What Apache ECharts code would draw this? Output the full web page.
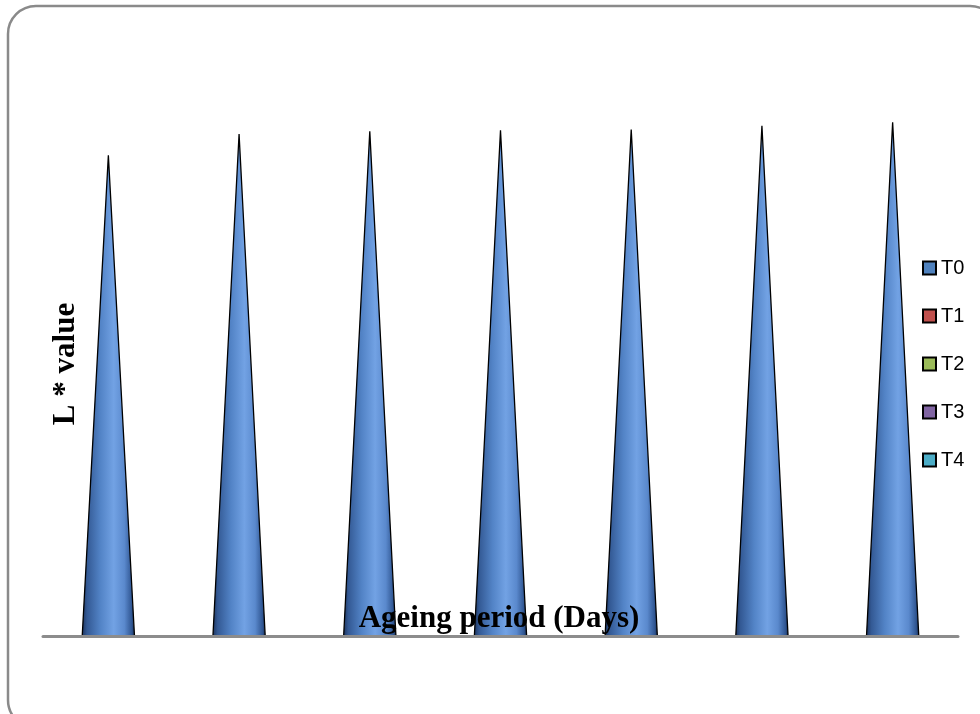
<!DOCTYPE html>
<html>
<head>
<meta charset="utf-8">
<script src="https://cdn.jsdelivr.net/npm/echarts@6/dist/echarts.min.js"></script>
<style>
  html, body { margin: 0; padding: 0; background: #ffffff; }
  #chart { width: 980px; height: 714px; }
</style>
</head>
<body>
<div id="chart"></div>
<script>
// Ageing period categories (days) and L* values for treatment T0
const categories = ['0', '15', '30', '45', '60', '75', '90'];
const valuesT0 = [53.8, 56.2, 56.5, 56.6, 56.7, 57.1, 57.5];
const seriesNames = ['T0', 'T1', 'T2', 'T3', 'T4'];
const seriesColors = ['#4f81bd', '#c0504d', '#9bbb59', '#8064a2', '#4bacc6'];

const chart = echarts.init(document.getElementById('chart'));

// Shaded fill that gives each cone a rounded, 3-D look
function coneFill() {
  return new echarts.graphic.LinearGradient(0, 0, 1, 0, [
    { offset: 0.0, color: '#1b3159' },
    { offset: 0.1, color: '#335994' },
    { offset: 0.35, color: '#5283c6' },
    { offset: 0.6, color: '#72a2e4' },
    { offset: 0.8, color: '#5a89cd' },
    { offset: 0.94, color: '#2f5591' },
    { offset: 1.0, color: '#16284a' }
  ]);
}

// Each value is drawn as a cone standing on the category axis
function renderCone(params, api) {
  const base = api.coord([api.value(0), 0]);
  const tip = api.coord([api.value(0), api.value(1)]);
  const half = api.size([1, 0])[0] * 0.2;
  return {
    type: 'polygon',
    shape: { points: [[base[0] - half, base[1]], [base[0] + half, base[1]], [tip[0], tip[1]]] },
    style: { fill: coneFill(), stroke: '#000000', lineWidth: 1.3, lineJoin: 'miter' }
  };
}

const series = [{
  name: 'T0',
  type: 'custom',
  renderItem: renderCone,
  encode: { x: 0, y: 1 },
  data: valuesT0.map((v, i) => [i, v]),
  itemStyle: { color: seriesColors[0] },
  z: 2
}];
// Remaining treatments appear in the legend only
for (let i = 1; i < seriesNames.length; i++) {
  series.push({ name: seriesNames[i], type: 'line', data: [], itemStyle: { color: seriesColors[i] } });
}

chart.setOption({
  animation: false,
  backgroundColor: '#ffffff',
  grid: { left: 43, right: 22, top: 100, bottom: 78 },
  xAxis: {
    type: 'category',
    data: categories,
    axisLine: { lineStyle: { color: '#8c8c8c', width: 3 } },
    axisTick: { show: false },
    axisLabel: { show: false },
    z: 5
  },
  yAxis: {
    type: 'value',
    min: 0,
    max: 60,
    show: false
  },
  legend: {
    orient: 'vertical',
    left: 917,
    top: 253,
    itemGap: 28,
    itemWidth: 13,
    itemHeight: 13,
    icon: 'rect',
    textStyle: { fontFamily: 'Liberation Sans, Arial, sans-serif', fontSize: 20, color: '#000' },
    data: seriesNames.map((n, i) => ({
      name: n,
      itemStyle: { color: seriesColors[i], borderColor: '#000', borderWidth: 2 }
    }))
  },
  graphic: [
    {
      type: 'rect',
      shape: { x: 8, y: 6, width: 990, height: 722, r: 28 },
      style: { fill: 'none', stroke: '#8a8a8a', lineWidth: 2.5 },
      silent: true,
      z: -1
    },
    {
      type: 'text',
      x: 499, y: 619,
      style: {
        text: 'Ageing period (Days)',
        fontFamily: 'Liberation Serif, Times New Roman, serif',
        fontWeight: 'bold', fontSize: 31, fill: '#000',
        align: 'center', verticalAlign: 'middle'
      },
      z: 10
    },
    {
      type: 'text',
      x: 66, y: 364,
      rotation: Math.PI / 2,
      style: {
        text: 'L * value',
        fontFamily: 'Liberation Serif, Times New Roman, serif',
        fontWeight: 'bold', fontSize: 31, fill: '#000',
        align: 'center', verticalAlign: 'middle'
      },
      z: 10
    }
  ],
  series: series
});
</script>
</body>
</html>
